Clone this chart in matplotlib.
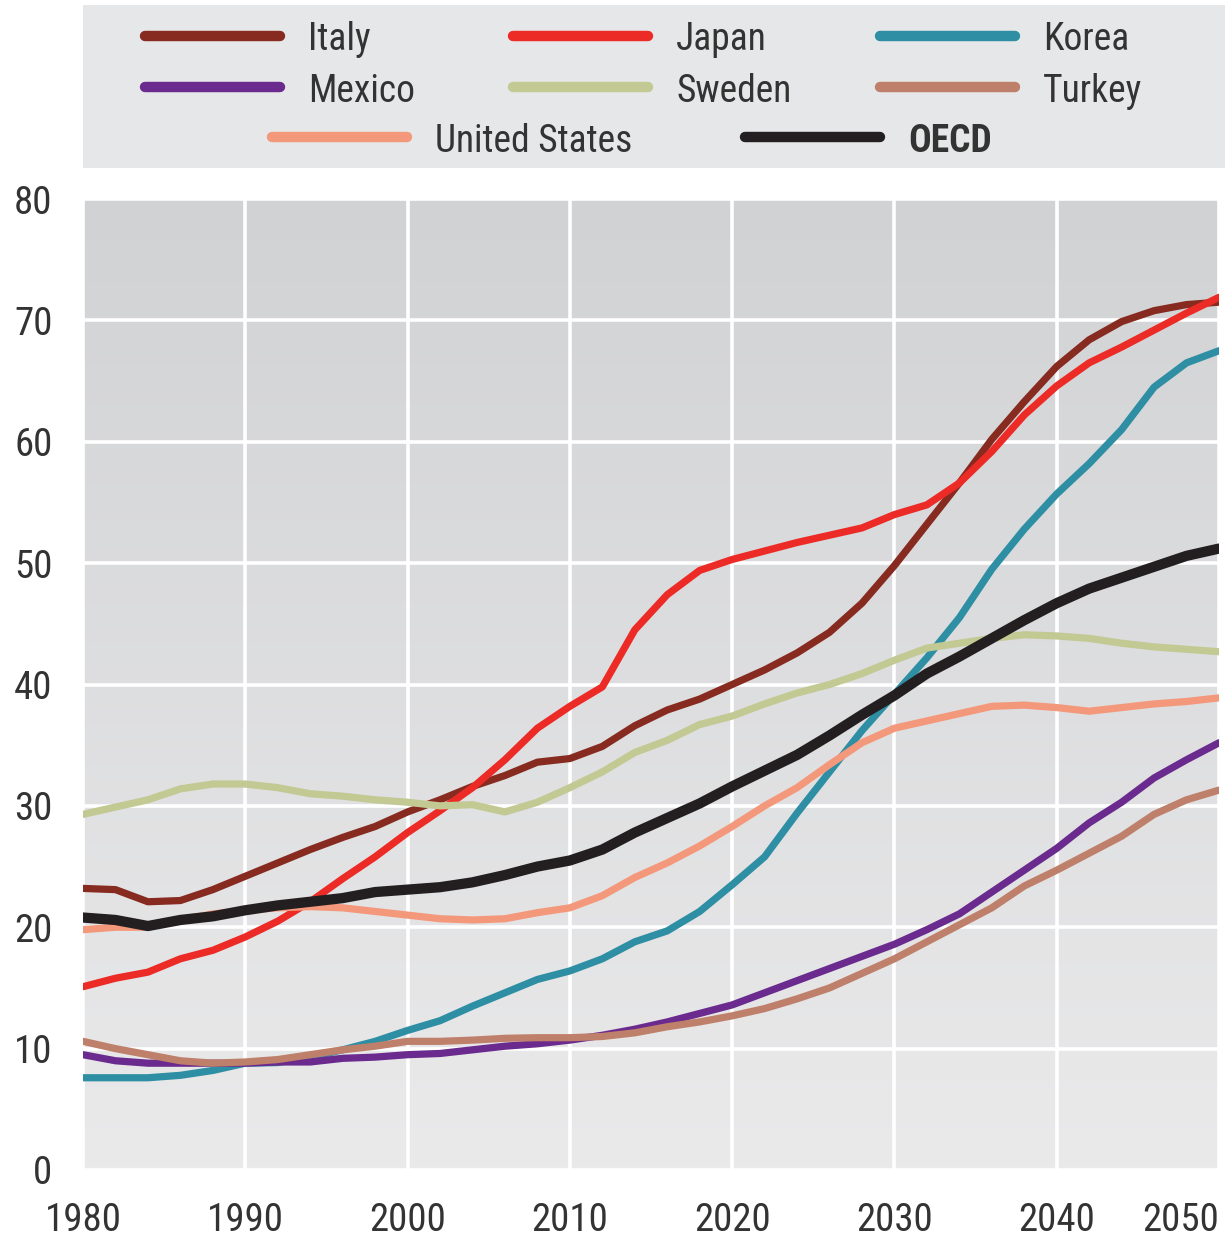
import matplotlib
matplotlib.use("Agg")
import matplotlib.pyplot as plt
from matplotlib import font_manager
import numpy as np

# 細めのフォントを探す（太字つきのもの優先）
cands = ["Roboto Condensed", "Liberation Sans Narrow", "Archivo Narrow", "PT Sans Narrow",
         "Fira Sans Condensed", "IBM Plex Sans Condensed", "Encode Sans Condensed",
         "Barlow Semi Condensed", "Open Sans Condensed"]
fonts = font_manager.fontManager.ttflist
font_name = "Liberation Sans"
for cand in cands:
    entries = [f for f in fonts if f.name == cand]
    if entries and any(f.weight in (700, "bold") and f.style == "normal" for f in entries):
        font_name = cand
        break
plt.rcParams["font.family"] = [font_name, "DejaVu Sans"]

years = list(range(1980, 2051, 2))

italy = [23.2, 23.1, 22.1, 22.2, 23.1, 24.2, 25.3, 26.4, 27.4, 28.3, 29.5, 30.5,
         31.6, 32.5, 33.6, 33.9, 34.9, 36.6, 37.9, 38.8, 40.0, 41.2, 42.6, 44.3,
         46.7, 49.8, 53.2, 56.6, 60.2, 63.3, 66.2, 68.4, 69.9, 70.8, 71.3, 71.5]
japan = [15.1, 15.8, 16.3, 17.4, 18.1, 19.2, 20.5, 22.1, 24.0, 25.8, 27.8, 29.6,
         31.5, 33.8, 36.4, 38.2, 39.8, 44.5, 47.4, 49.4, 50.3, 51.0, 51.7, 52.3,
         52.9, 54.0, 54.8, 56.6, 59.2, 62.2, 64.6, 66.5, 67.8, 69.2, 70.6, 71.9]
korea = [7.6, 7.6, 7.6, 7.8, 8.2, 8.8, 8.85, 9.3, 9.9, 10.6, 11.5, 12.3,
         13.5, 14.6, 15.7, 16.4, 17.4, 18.8, 19.7, 21.3, 23.5, 25.8, 29.4, 32.8,
         36.2, 39.2, 42.2, 45.5, 49.5, 52.8, 55.7, 58.2, 61.0, 64.5, 66.5, 67.5]
mexico = [9.5, 9.0, 8.8, 8.8, 8.8, 8.8, 8.9, 8.9, 9.2, 9.3, 9.5, 9.6,
          9.9, 10.2, 10.4, 10.7, 11.1, 11.6, 12.2, 12.9, 13.6, 14.6, 15.6, 16.6,
          17.6, 18.6, 19.8, 21.1, 22.9, 24.7, 26.5, 28.6, 30.3, 32.3, 33.8, 35.2]
sweden = [29.3, 29.9, 30.5, 31.4, 31.8, 31.8, 31.5, 31.0, 30.8, 30.5, 30.3, 30.0,
          30.1, 29.5, 30.3, 31.5, 32.8, 34.4, 35.4, 36.7, 37.4, 38.4, 39.3, 40.0,
          40.9, 42.0, 43.0, 43.4, 43.8, 44.1, 44.0, 43.8, 43.4, 43.1, 42.9, 42.7]
turkey = [10.6, 10.0, 9.5, 9.0, 8.8, 8.9, 9.1, 9.5, 9.9, 10.2, 10.6, 10.6,
          10.7, 10.85, 10.9, 10.9, 11.0, 11.3, 11.8, 12.2, 12.7, 13.3, 14.1, 15.0,
          16.2, 17.4, 18.8, 20.2, 21.6, 23.4, 24.7, 26.1, 27.5, 29.3, 30.5, 31.3]
usa = [19.8, 20.0, 20.0, 20.6, 21.1, 21.4, 21.6, 21.7, 21.6, 21.3, 21.0, 20.7,
       20.6, 20.7, 21.2, 21.6, 22.6, 24.1, 25.3, 26.7, 28.3, 30.0, 31.5, 33.4,
       35.2, 36.4, 37.0, 37.6, 38.2, 38.3, 38.1, 37.8, 38.1, 38.4, 38.6, 38.9]
oecd = [20.8, 20.6, 20.1, 20.6, 20.9, 21.4, 21.8, 22.1, 22.4, 22.9, 23.1, 23.3,
        23.7, 24.3, 25.0, 25.5, 26.4, 27.8, 29.0, 30.2, 31.6, 32.9, 34.2, 35.8,
        37.5, 39.1, 40.9, 42.3, 43.8, 45.3, 46.7, 47.9, 48.8, 49.7, 50.6, 51.2]

names = ["Italy", "Japan", "Korea", "Mexico", "Sweden", "Turkey", "United States", "OECD"]
series = [italy, japan, korea, mexico, sweden, turkey, usa, oecd]
colors = ["#872a1f", "#ec2a26", "#2e8ea3", "#6a2a8e", "#c2c993", "#bf806b", "#f4987b", "#231f20"]

y_ticks = list(range(0, 81, 10))
x_ticks = list(range(1980, 2051, 10))

fig = plt.figure(figsize=(12.25, 12.4), dpi=100)
ax = fig.add_axes([83 / 1225, 1 - 1170 / 1240, (1219 - 83) / 1225, (1170 - 199) / 1240])

# 背景グラデーション
grad = np.linspace(0, 1, 256).reshape(-1, 1)
top_c = np.array([0xd1, 0xd2, 0xd4]) / 255
bot_c = np.array([0xea, 0xea, 0xeb]) / 255
img = top_c[None, None, :] * (1 - grad[:, :, None]) + bot_c[None, None, :] * grad[:, :, None]
ax.imshow(img, extent=[1980, 2050, 0, 80], aspect="auto", origin="upper", zorder=0)

for vals, col, nm in zip(series, colors, names):
    lw = 7.4 if nm == "OECD" else 5.2
    ax.plot(years, vals, color=col, lw=lw, solid_capstyle="round", solid_joinstyle="round", zorder=3)

ax.set_xlim(1980, 2050)
ax.set_ylim(0, 80)
ax.set_xticks(x_ticks)
ax.set_yticks(y_ticks)
ax.set_xticks(x_ticks[1:-1], minor=True)
ax.set_yticks(y_ticks[1:-1], minor=True)
ax.grid(True, which="major", color="white", lw=2.6)
ax.set_axisbelow(True)
ax.tick_params(which="major", length=0, labelsize=28, labelcolor="#333333")
ax.tick_params(axis="y", which="major", pad=22)
ax.tick_params(axis="x", which="major", pad=23)
ax.tick_params(which="minor", direction="in", length=13, width=1.3, color="#333333")
for s in ax.spines.values():
    s.set_visible(False)
xl = ax.get_xticklabels()
xl[-1].set_horizontalalignment("right")
xl[-1].set_x(2050)

# 凡例（上部の灰色ボックス）
lax = fig.add_axes([0, 0, 1, 1], zorder=-1)
lax.set_xlim(0, 1225)
lax.set_ylim(1240, 0)
lax.axis("off")
lax.add_patch(plt.Rectangle((83, 5), 1225 - 83, 163, color="#e6e7e8", lw=0))
positions = [(145, 36), (513, 36), (880, 36),
             (145, 87), (513, 87), (880, 87),
             (272, 137), (745, 137)]
for (x0, y0), nm, col in zip(positions, names, colors):
    lax.plot([x0, x0 + 135], [y0, y0], color=col, lw=7.5, solid_capstyle="round")
    lax.text(x0 + 163, y0 + 4, nm, fontsize=27, color="#333333", va="center", ha="left",
             fontweight="bold" if nm == "OECD" else "normal")

plt.savefig("out.png", dpi=100)
